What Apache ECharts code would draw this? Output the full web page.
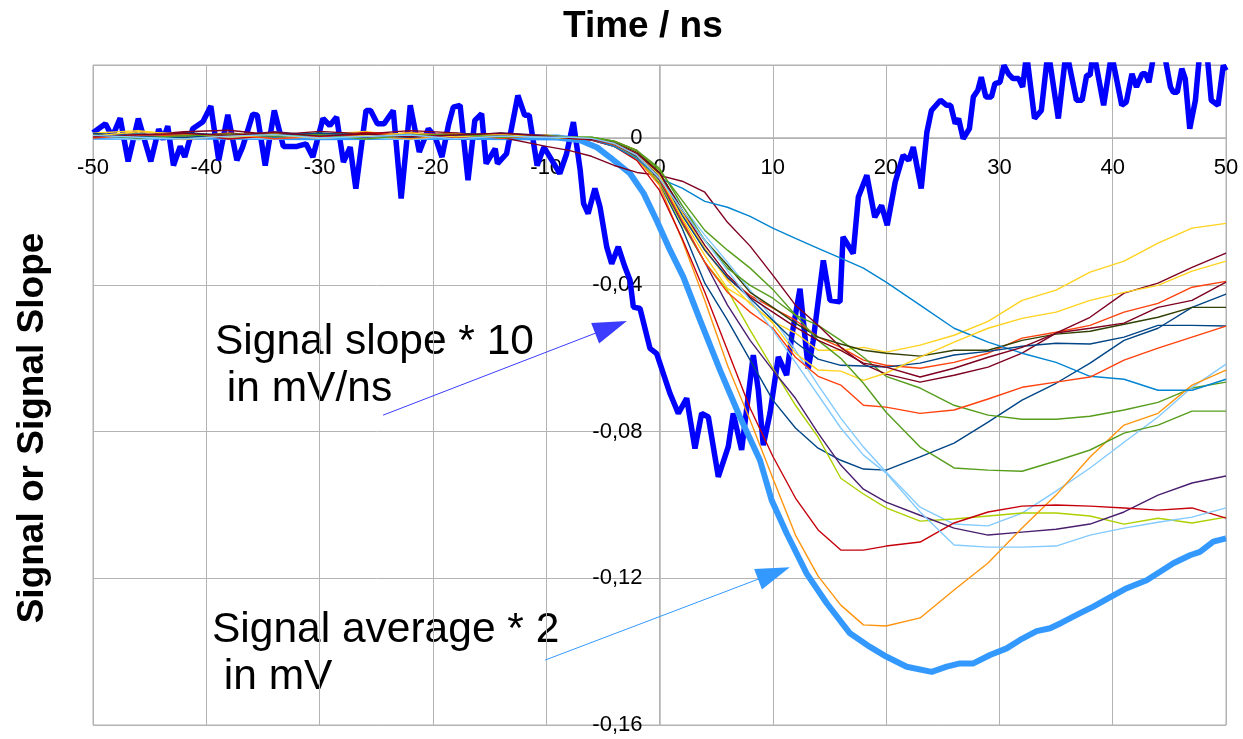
<!DOCTYPE html>
<html>
<head>
<meta charset="utf-8">
<script src="https://cdn.jsdelivr.net/npm/echarts@6/dist/echarts.min.js"></script>
<style>
  html, body { margin: 0; padding: 0; background: #fff; }
  #chart { width: 1243px; height: 739px; }
</style>
</head>
<body>
<div id="chart"></div>
<script>
// time grid (ns) shared by the individual signal traces
const times = [-50, -46, -42, -38, -34, -30, -26, -22, -18, -14, -10,
  -8, -6, -4, -2, 0, 2, 4, 6, 8, 10, 12, 14, 16, 18, 20, 23, 26, 29, 32, 35, 38, 41, 44, 47, 50]

// individual signals, one array per trace (values on the times grid)
const sig01 = [0.0010, 0.0004, 0.0016, 0.0007, 0.0012, 0.0002, 0.0011, 0.0006, 0.0014, 0.0008, 0.0005,
  0.0003, -0.0005, -0.0022, -0.0055, -0.0123, -0.0245, -0.0395, -0.0496, -0.0605, -0.0714, -0.079, -0.0845, -0.0878, -0.0902, -0.0905, -0.0869, -0.0831, -0.0774, -0.0714, -0.0668, -0.0613, -0.0551, -0.0518, -0.0461, -0.0425]
const sig02 = [0.0006, 0.0013, 0.0002, 0.0015, 0.0005, 0.0011, 0.0003, 0.0016, 0.0007, 0.0012, 0.0004,
  0.0003, 0, -0.0008, -0.0033, -0.0093, -0.0202, -0.0305, -0.0382, -0.0428, -0.0463, -0.0496, -0.0542, -0.057, -0.0605, -0.0619, -0.0627, -0.0611, -0.0586, -0.0545, -0.0529, -0.051, -0.0474, -0.045, -0.0406, -0.039]
const sig03 = [0.0014, 0.0021, 0.0008, 0.0003, 0.0016, 0.0009, 0.0019, 0.0004, 0.0010, 0.0002, 0.0009,
  0.0003, 0, -0.0011, -0.0038, -0.0093, -0.0202, -0.03, -0.0387, -0.0452, -0.0499, -0.0531, -0.0578, -0.0578, -0.057, -0.0583, -0.0564, -0.0537, -0.0499, -0.0442, -0.0414, -0.0365, -0.0335, -0.0286, -0.0245, -0.0232]
const sig04 = [0.0002, 0.0008, 0.0012, 0.0001, 0.0007, 0.0015, 0.0004, 0.0010, 0.0003, 0.0013, 0.0006,
  0.0003, 0.0003, -0.0008, -0.0033, -0.0087, -0.0169, -0.0251, -0.0305, -0.0354, -0.0412, -0.0482, -0.051, -0.0551, -0.0597, -0.0649, -0.0681, -0.0728, -0.0755, -0.0766, -0.0766, -0.0758, -0.0741, -0.072, -0.0681, -0.0665]
const sig05 = [0.0012, 0.0007, 0.0018, 0.0022, 0.0009, 0.0019, 0.0012, 0.0021, 0.0015, 0.0003, -0.0022,
  -0.0033, -0.0049, -0.0074, -0.0093, -0.0101, -0.0117, -0.0147, -0.0229, -0.0294, -0.0373, -0.0455, -0.051, -0.057, -0.0616, -0.0643, -0.0665, -0.0646, -0.0624, -0.0586, -0.0531, -0.0488, -0.0422, -0.0395, -0.0352, -0.0313]
const sig06 = [0.0004, -0.0004, 0.0009, 0.0002, -0.0002, 0.0006, 0.0001, -0.0003, 0.0007, 0.0002, 0.0004,
  0.0003, 0, -0.0014, -0.0044, -0.0104, -0.0185, -0.0264, -0.0338, -0.0414, -0.0491, -0.0578, -0.0673, -0.0763, -0.0842, -0.091, -0.1006, -0.1052, -0.1057, -0.1022, -0.0962, -0.0899, -0.0829, -0.076, -0.0679, -0.0616]
const sig07 = [0.0009, 0.0003, 0.0006, 0.0013, 0.0004, 0.0008, 0.0014, 0.0005, 0.0011, 0.0004, 0.0007,
  0, 0, -0.0011, -0.0038, -0.0093, -0.0196, -0.0278, -0.0346, -0.042, -0.0461, -0.0504, -0.0542, -0.0561, -0.0578, -0.0586, -0.0594, -0.0578, -0.0578, -0.0551, -0.0534, -0.0526, -0.0507, -0.0488, -0.0461, -0.0461]
const sig08 = [0.0005, 0.0011, 0.0004, 0.0009, 0.0015, 0.0003, 0.0008, 0.0012, 0.0002, 0.0010, 0.0006,
  0, -0.0003, -0.0019, -0.0052, -0.012, -0.0234, -0.0338, -0.0414, -0.0523, -0.0627, -0.0728, -0.0815, -0.0927, -0.097, -0.1008, -0.1044, -0.1038, -0.103, -0.1022, -0.1022, -0.103, -0.1052, -0.1036, -0.1049, -0.1033]
const sig09 = [0.0008, 0.0002, 0.0010, 0.0005, 0.0018, 0.0007, 0.0003, 0.0013, 0.0006, 0.0015, 0.0008,
  0.0003, -0.0003, -0.0016, -0.0046, -0.0114, -0.0229, -0.0338, -0.0455, -0.0551, -0.0632, -0.0709, -0.0804, -0.0891, -0.0957, -0.0992, -0.1028, -0.1063, -0.1082, -0.1074, -0.1066, -0.1052, -0.1019, -0.0973, -0.094, -0.0921]
const sig10 = [0.0003, 0.0009, -0.0003, 0.0007, 0.0002, 0.0012, 0.0006, -0.0001, 0.0009, 0.0004, 0.0006,
  0.0003, -0.0005, -0.0019, -0.0055, -0.0128, -0.0278, -0.0442, -0.0619, -0.0769, -0.0927, -0.1082, -0.1194, -0.1273, -0.1327, -0.133, -0.1308, -0.1232, -0.1158, -0.1063, -0.0973, -0.0869, -0.0782, -0.075, -0.0673, -0.0632]
const sig11 = [0.0011, 0.0005, 0.0014, -0.0002, 0.0008, 0.0003, 0.0016, 0.0009, 0.0001, 0.0007, 0.0005,
  0.0003, -0.0005, -0.0022, -0.006, -0.0142, -0.0273, -0.042, -0.0578, -0.0736, -0.0867, -0.0981, -0.1068, -0.1123, -0.1123, -0.1112, -0.1101, -0.1049, -0.1019, -0.1003, -0.1, -0.1003, -0.1008, -0.1014, -0.1008, -0.1036]
const sig12 = [0.0007, 0.0012, 0.0005, 0.0010, 0.0003, 0.0009, 0.0005, 0.0011, 0.0008, 0.0005, 0.0007,
  0.0003, -0.0003, -0.0022, -0.0055, -0.0109, -0.0136, -0.0172, -0.0188, -0.0213, -0.0245, -0.0273, -0.03, -0.0327, -0.0354, -0.0392, -0.0455, -0.0518, -0.0556, -0.0586, -0.0611, -0.0649, -0.0657, -0.0687, -0.0687, -0.0657]
const sig13 = [0.0013, 0.0006, 0.0002, 0.0011, 0.0007, 0.0014, 0.0009, 0.0003, 0.0012, 0.0009, 0.0006,
  0, -0.0003, -0.0016, -0.0049, -0.0101, -0.021, -0.0305, -0.0379, -0.0436, -0.0496, -0.0556, -0.0602, -0.0619, -0.0621, -0.0624, -0.0613, -0.0591, -0.0581, -0.0567, -0.0559, -0.0561, -0.0542, -0.051, -0.051, -0.0512]
const sig14 = [0.0001, 0.0010, 0.0007, 0.0012, -0.0001, 0.0005, 0.0010, 0.0007, 0.0013, 0.0000, 0.0008,
  0, -0.0003, -0.0016, -0.0046, -0.0109, -0.0223, -0.0338, -0.042, -0.0474, -0.0518, -0.0597, -0.0649, -0.0673, -0.0728, -0.0733, -0.075, -0.0741, -0.0711, -0.0679, -0.0665, -0.0651, -0.0605, -0.0572, -0.0542, -0.0512]
const sig15 = [0.0006, 0.0018, 0.0011, 0.0004, 0.0009, 0.0000, 0.0007, 0.0015, 0.0004, 0.0011, 0.0003,
  0, 0, -0.0014, -0.0041, -0.0101, -0.0218, -0.0319, -0.0409, -0.0447, -0.0504, -0.0586, -0.0632, -0.0635, -0.066, -0.064, -0.0597, -0.0556, -0.0518, -0.0491, -0.0474, -0.0442, -0.042, -0.0401, -0.0362, -0.0335]
const sig16 = [0.0009, 0.0001, 0.0007, 0.0011, 0.0006, 0.0010, -0.0002, 0.0008, 0.0011, 0.0003, 0.0007,
  0.0003, 0.0003, -0.0008, -0.0033, -0.0082, -0.0183, -0.0278, -0.0354, -0.0401, -0.0436, -0.0482, -0.0551, -0.06, -0.0668, -0.0747, -0.0842, -0.0899, -0.0905, -0.0908, -0.088, -0.085, -0.0804, -0.0782, -0.0744, -0.0744]
const sig17 = [0.0004, 0.0010, 0.0013, 0.0008, 0.0016, 0.0006, 0.0012, 0.0004, 0.0009, 0.0014, 0.0006,
  0, -0.0003, -0.0014, -0.0041, -0.0095, -0.0196, -0.0292, -0.0373, -0.0433, -0.0474, -0.0515, -0.0551, -0.0578, -0.0613, -0.0624, -0.0651, -0.0627, -0.0597, -0.057, -0.0531, -0.0518, -0.0504, -0.0461, -0.0442, -0.0392]
const sig18 = [0.0008, 0.0003, -0.0002, 0.0006, 0.0010, 0.0001, 0.0005, 0.0009, -0.0001, 0.0006, 0.0003,
  0.0003, 0, -0.0014, -0.0046, -0.0109, -0.0196, -0.0278, -0.036, -0.0442, -0.0523, -0.0611, -0.07, -0.079, -0.0864, -0.0913, -0.1019, -0.1109, -0.1115, -0.1115, -0.1112, -0.1082, -0.1063, -0.1047, -0.1033, -0.1008]

const signals = [sig01, sig02, sig03, sig04, sig05, sig06, sig07, sig08, sig09,
  sig10, sig11, sig12, sig13, sig14, sig15, sig16, sig17, sig18]

// [time, value] pairs: signal slope * 10 (mV/ns)
const slope = [[-50, 0.0015], [-48.9, 0.004], [-48.3, 0.0004], [-47.6, 0.0055], [-46.9, -0.0063], [-46.0, 0.0054],
  [-44.9, -0.0063], [-44.2, 0.0025], [-43.8, -0.0003], [-43.4, 0.0033], [-42.9, -0.0074], [-42.3, -0.0022],
  [-41.9, -0.0051], [-41.2, 0.0026], [-40.3, 0.0045], [-39.6, 0.0088], [-38.9, -0.006], [-38.1, 0.0064],
  [-37.3, -0.006], [-36.8, -0.0024], [-35.9, 0.0066], [-35.5, 0.0063], [-34.8, -0.0074], [-34.0, 0.0076],
  [-33.2, -0.0022], [-32.0, -0.0022], [-31.2, -0.0015], [-30.6, -0.0051], [-29.7, 0.0054], [-29.1, 0.0035],
  [-28.5, 0.0058], [-27.9, -0.0065], [-27.3, -0.0024], [-26.8, -0.0137], [-25.9, 0.0076], [-25.5, 0.0076],
  [-24.9, 0.004], [-24.3, 0.004], [-23.5, 0.0076], [-22.8, -0.0164], [-22.0, 0.009], [-21.2, -0.0037],
  [-20.4, 0.0026], [-19.8, 0.0004], [-19.2, -0.0051], [-18.6, 0.004], [-18.2, 0.0085], [-17.6, 0.009],
  [-16.9, -0.0114], [-16.3, 0.0049], [-15.7, 0.0067], [-15.3, -0.0069], [-14.5, -0.0028], [-14.3, -0.0069],
  [-13.5, -0.0042], [-12.5, 0.0117], [-11.9, 0.0063], [-11.5, 0.0063], [-10.8, -0.0074], [-10.2, -0.0024],
  [-9.4, -0.0065], [-8.8, -0.0096], [-8.2, -0.0042], [-7.6, 0.0044], [-7.0, -0.0087], [-6.7, -0.0178],
  [-6.3, -0.0205], [-5.7, -0.0137], [-5.25, -0.0187], [-4.66, -0.0296], [-4.22, -0.0342], [-3.64, -0.0296],
  [-3.05, -0.0351], [-2.6, -0.0387], [-2.31, -0.046], [-1.72, -0.0464], [-0.84, -0.0573], [-0.25, -0.0587],
  [0.93, -0.0696], [1.66, -0.075], [2.4, -0.0709], [3.13, -0.0846], [3.72, -0.075], [4.31, -0.076],
  [5.19, -0.0923], [6.07, -0.0841], [6.51, -0.075], [7.25, -0.085], [8.28, -0.0591], [8.72, -0.0687],
  [9.16, -0.0837], [9.75, -0.075], [10.49, -0.0596], [11.22, -0.0646], [11.66, -0.0542], [12.4, -0.041],
  [13.13, -0.0628], [13.57, -0.0551], [14.46, -0.0333], [15.05, -0.0442], [15.93, -0.0446], [16.2, -0.0269],
  [17.1, -0.0314], [17.55, -0.016], [18.3, -0.0101], [19.0, -0.0215], [19.6, -0.0183], [20.1, -0.0237],
  [20.8, -0.012], [21.5, -0.0046], [22.0, -0.006], [22.4, -0.0024], [23.1, -0.0137], [23.6, 0.0017],
  [24.0, 0.0076], [24.8, 0.0104], [25.35, 0.009], [25.7, 0.009], [26.1, 0.004], [26.4, 0.0054],
  [26.8, -0.0001], [27.35, 0.0026], [27.7, 0.0113], [28.1, 0.0131], [28.4, 0.0167], [28.8, 0.0113],
  [29.3, 0.0113], [29.6, 0.0149], [30.05, 0.0153], [30.4, 0.0199], [30.8, 0.0176], [31.2, 0.0163],
  [31.7, 0.0163], [32.05, 0.014], [32.4, 0.023], [33.1, 0.0054], [33.7, 0.0076], [34.3, 0.024],
  [35.2, 0.0054], [35.9, 0.024], [36.8, 0.0104], [37.3, 0.0104], [37.7, 0.0172], [38.0, 0.0172],
  [38.3, 0.024], [39.2, 0.009], [39.9, 0.023], [40.8, 0.009], [41.2, 0.0099], [41.7, 0.0176],
  [42.1, 0.014], [42.6, 0.0176], [42.9, 0.0176], [43.2, 0.0153], [43.7, 0.024], [44.5, 0.024],
  [45.1, 0.014], [45.35, 0.0126], [45.7, 0.0126], [46.1, 0.019], [46.4, 0.0163], [46.8, 0.0026],
  [47.3, 0.0104], [47.7, 0.024], [48.3, 0.024], [48.7, 0.0104], [49.3, 0.009], [49.76, 0.0199], [50, 0.0185]]

// [time, value] pairs: signal average * 2 (mV)
const average = [[-50, 0.0004], [-40, 0.0004], [-30, 0.0003], [-20, 0.0004], [-12, 0.0003], [-9, 0.0002],
  [-7, -0.0005], [-5.5, -0.0025], [-4.4, -0.0051], [-2.6, -0.0096], [-1.4, -0.015], [-0.25, -0.0224],
  [0.93, -0.0305], [2.1, -0.0378], [3.58, -0.0496], [5.34, -0.0632], [7.1, -0.076], [8.87, -0.0878],
  [9.9, -0.0987], [11.22, -0.1077], [12.99, -0.1187], [14.76, -0.1268], [16.81, -0.135], [18.58, -0.1387],
  [20.05, -0.1414], [21.82, -0.1441], [24.02, -0.1455], [25.35, -0.1441], [26.52, -0.1432], [27.7, -0.1432],
  [29.17, -0.1409], [30.64, -0.1391], [31.82, -0.1368], [33.29, -0.1344], [34.47, -0.1336], [35.5, -0.1321],
  [37.12, -0.1295], [38.29, -0.1277], [39.47, -0.1257], [41.24, -0.1227], [43.0, -0.1205], [44.18, -0.1182],
  [45.35, -0.1159], [46.82, -0.1137], [47.7, -0.1128], [48.88, -0.11], [50, -0.1091]]

// annotation arrows: [start, arrowhead centre] in data coordinates
const slopeArrow = [[-24.4, -0.0755], [-4.28, -0.0515]]
const averageArrow = [[-10.1, -0.1423], [10.1, -0.1186]]

const palette = ['#004586', '#ff420e', '#ffd320', '#579d1c', '#7e0021', '#83caff',
  '#314004', '#aecf00', '#4b1f6f', '#ff950e', '#c5000b', '#0084d1']

const FONT = 'Liberation Sans'
const gridColor = '#b3b3b3'

const chart = echarts.init(document.getElementById('chart'))

const thinSeries = signals.map((vals, i) => ({
  type: 'line',
  data: times.map((t, k) => [t, vals[k]]),
  showSymbol: false,
  lineStyle: { width: 1.4, color: palette[i % palette.length] },
  silent: true,
}))

const arrowMark = (pts, color) => ({
  silent: true,
  symbol: ['none', 'triangle'],
  symbolSize: [22, 34],
  label: { show: false },
  lineStyle: { color, width: 1, type: 'solid' },
  itemStyle: { color },
  data: [[{ coord: pts[0] }, { coord: pts[1] }]],
})

chart.setOption({
  animation: false,
  title: {
    text: 'Time / ns',
    left: 558,
    top: 3,
    textStyle: { fontFamily: FONT, fontSize: 37, fontWeight: 'bold', color: '#000' },
  },
  grid: {
    left: 93, right: 17, top: 65, bottom: 14,
    outerBoundsMode: 'none',
    show: true, borderColor: gridColor, borderWidth: 1,
  },
  xAxis: {
    type: 'value',
    min: -50,
    max: 50,
    interval: 10,
    position: 'top',
    offset: -73, // axis drawn through value 0
    axisLine: { onZero: false, lineStyle: { color: gridColor, width: 1.5 } },
    axisTick: { show: false },
    axisLabel: { inside: true, fontFamily: FONT, fontSize: 22, color: '#000', margin: 19 },
    splitLine: { lineStyle: { color: gridColor } },
  },
  yAxis: {
    type: 'value',
    min: -0.16,
    max: 0.02,
    interval: 0.04,
    position: 'left',
    offset: -566.5, // axis drawn through time 0
    axisLine: { onZero: false, lineStyle: { color: gridColor, width: 1.5 } },
    axisTick: { show: false },
    axisLabel: {
      fontFamily: FONT, fontSize: 22, color: '#000', margin: 17,
      formatter: (v) => (v > 0.01 ? '' : String(+v.toFixed(2)).replace('.', ',')),
    },
    splitLine: { lineStyle: { color: gridColor } },
  },
  graphic: [
    {
      type: 'text',
      x: 33,
      y: 428,
      rotation: Math.PI / 2,
      style: {
        text: 'Signal or Signal Slope',
        font: `bold 37px "${FONT}"`,
        fill: '#000',
        align: 'center',
        verticalAlign: 'middle',
      },
    },
    {
      type: 'text',
      left: 215,
      top: 319,
      style: { text: 'Signal slope * 10\n in mV/ns', font: `42.5px "${FONT}"`, fill: '#000', lineHeight: 47 },
    },
    {
      type: 'text',
      left: 212,
      top: 607,
      style: { text: 'Signal average * 2\n in mV', font: `42.5px "${FONT}"`, fill: '#000', lineHeight: 47 },
    },
  ],
  series: [
    {
      type: 'line',
      data: slope,
      showSymbol: false,
      lineStyle: { width: 5.5, color: '#0000ff' },
      silent: true,
      markLine: arrowMark(slopeArrow, '#3c3cff'),
    },
    {
      type: 'line',
      data: average,
      showSymbol: false,
      lineStyle: { width: 6, color: '#3399ff' },
      silent: true,
      markLine: arrowMark(averageArrow, '#3399ff'),
    },
    ...thinSeries,
  ],
})
</script>
</body>
</html>
